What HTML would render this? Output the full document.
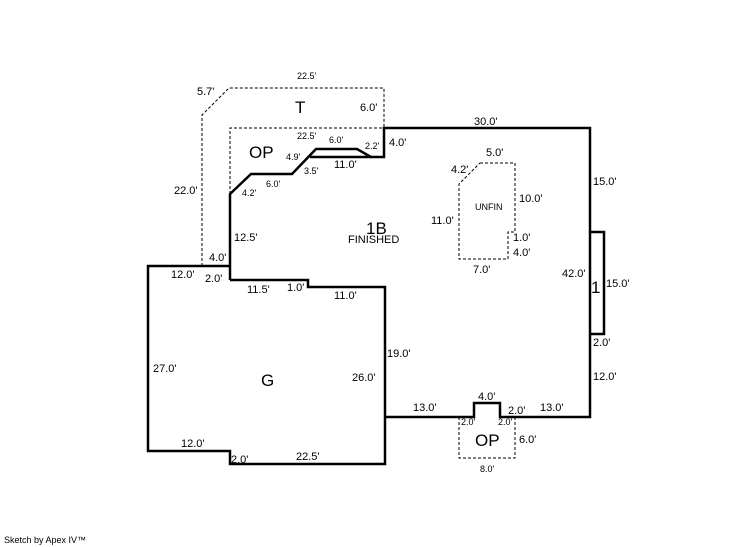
<!DOCTYPE html>
<html><head><meta charset="utf-8"><style>
html,body{margin:0;padding:0;background:#fff;width:746px;height:547px;overflow:hidden}
svg text{font-family:"Liberation Sans",Arial,sans-serif;font-size:11px;fill:#000}
.s{font-size:9px}
.b{font-size:17px}
</style></head><body>
<svg width="746" height="547" viewBox="0 0 746 547" xmlns="http://www.w3.org/2000/svg">
<g fill="none" stroke="#000" stroke-width="1" stroke-dasharray="3,2">
<polyline points="202,266 202,115 229,88 384,88 384,128"/>
<polyline points="230,194 230,128 384,128"/>
<polyline points="480,163 515,163 515,232 508,232 508,259 459,259 459,184 480,163"/>
<polyline points="459,417 459,458 515,458 515,417"/>
</g>
<g fill="none" stroke="#000" stroke-width="2.5" stroke-linejoin="miter">
<polyline points="230,280 230,194 251,174 292,174 316,149 357,149 371,157"/>
<polyline points="310,157 384,157 384,128 590,128 590,417 500,417 500,403 474,403 474,417 385,417"/>
<polyline points="230,266 148,266 148,451 230,451 230,464 385,464 385,287 308,287 308,280 230,280"/>
<polyline points="590,232 604,232 604,334 590,334"/>
</g>
<text x="297" y="79" class="s">22.5'</text>
<text x="197" y="95">5.7'</text>
<text x="295" y="113" class="b">T</text>
<text x="360" y="111">6.0'</text>
<text x="249" y="158" class="b">OP</text>
<text x="297" y="139" class="s">22.5'</text>
<text x="329" y="143" class="s">6.0'</text>
<text x="365" y="149" class="s">2.2'</text>
<text x="389" y="146">4.0'</text>
<text x="286" y="160" class="s">4.9'</text>
<text x="334" y="168">11.0'</text>
<text x="304" y="174" class="s">3.5'</text>
<text x="266" y="187" class="s">6.0'</text>
<text x="242" y="196" class="s">4.2'</text>
<text x="174" y="194">22.0'</text>
<text x="474" y="125">30.0'</text>
<text x="486" y="156">5.0'</text>
<text x="451" y="173">4.2'</text>
<text x="593" y="185">15.0'</text>
<text x="519" y="202">10.0'</text>
<text x="475" y="210" class="s">UNFIN</text>
<text x="431" y="224">11.0'</text>
<text x="366" y="234" class="b">1B</text>
<text x="348" y="243">FINISHED</text>
<text x="234" y="241">12.5'</text>
<text x="513" y="241">1.0'</text>
<text x="513" y="256">4.0'</text>
<text x="209" y="261">4.0'</text>
<text x="171" y="278">12.0'</text>
<text x="205" y="282">2.0'</text>
<text x="247" y="293">11.5'</text>
<text x="287" y="291">1.0'</text>
<text x="334" y="299">11.0'</text>
<text x="473" y="273">7.0'</text>
<text x="562" y="277">42.0'</text>
<text x="591" y="293" class="b">1</text>
<text x="606" y="287">15.0'</text>
<text x="593" y="346">2.0'</text>
<text x="387" y="357">19.0'</text>
<text x="153" y="372">27.0'</text>
<text x="261" y="386" class="b">G</text>
<text x="352" y="381">26.0'</text>
<text x="593" y="380">12.0'</text>
<text x="478" y="400">4.0'</text>
<text x="413" y="411">13.0'</text>
<text x="508" y="414">2.0'</text>
<text x="540" y="411">13.0'</text>
<text x="461" y="425" class="s">2.0'</text>
<text x="498" y="425" class="s">2.0'</text>
<text x="475" y="446" class="b">OP</text>
<text x="519" y="443">6.0'</text>
<text x="181" y="447">12.0'</text>
<text x="231" y="463">2.0'</text>
<text x="296" y="460">22.5'</text>
<text x="480" y="472" class="s">8.0'</text>
<text x="4" y="543" class="s">Sketch by Apex IV™</text>
</svg>
</body></html>
